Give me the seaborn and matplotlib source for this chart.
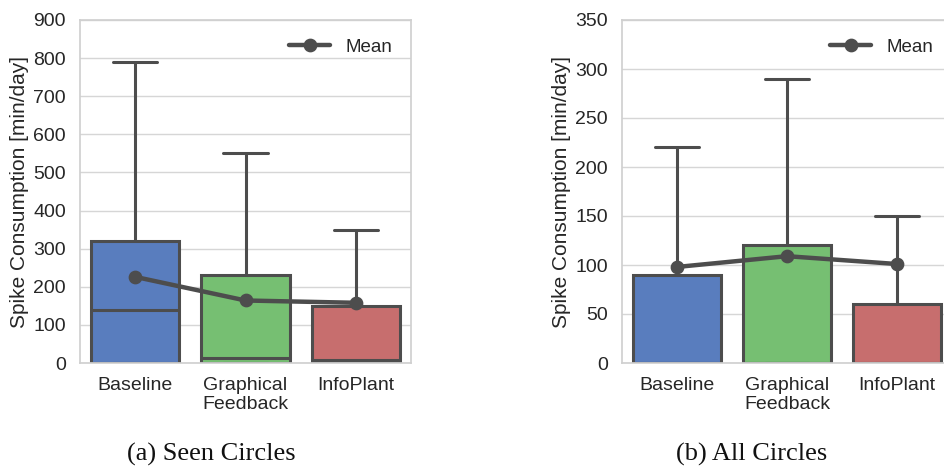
import numpy as np
import pandas as pd
import matplotlib
matplotlib.use("Agg")
import matplotlib.pyplot as plt
import seaborn as sns

conditions = ["Baseline", "Graphical\nFeedback", "InfoPlant"]

# Seen circles: box summary (lower quartile is 0 for every condition)
seen_median = [140, 13, 8]
seen_q3 = [320, 232, 150]
seen_whisker = [790, 550, 350]
seen_mean = [226, 164, 158]

# All circles
all_median = [0, 0, 0]
all_q3 = [90, 120, 60]
all_whisker = [220, 290, 150]
all_mean = [98, 109, 101]

palette = ["#4878CF", "#6ACC65", "#D65F5F"]
line_gray = "#4d4d4d"


def sample_frame(medians, q3s, whiskers):
    """Five-value samples whose quartiles/whiskers reproduce the summary."""
    rows = []
    for cond, med, q3, wh in zip(conditions, medians, q3s, whiskers):
        for v in (0, 0, med, q3, wh):
            rows.append({"condition": cond, "value": v})
    return pd.DataFrame(rows)


sns.set_theme(style="whitegrid")
plt.rcParams["font.family"] = ["Liberation Sans", "DejaVu Sans"]
plt.rcParams["axes.edgecolor"] = "#d0d0d0"
plt.rcParams["grid.color"] = "#d6d6d6"

fig = plt.figure(figsize=(9.44, 4.67), dpi=100)
W, H = 944, 467
ax1 = fig.add_axes([80 / W, 104 / H, 331 / W, 343 / H])
ax2 = fig.add_axes([622 / W, 104 / H, 330 / W, 343 / H])

panels = [
    (ax1, seen_median, seen_q3, seen_whisker, seen_mean, np.arange(0, 901, 100), 900),
    (ax2, all_median, all_q3, all_whisker, all_mean, np.arange(0, 351, 50), 350),
]

for ax, med, q3, wh, mean, ticks, top in panels:
    df = sample_frame(med, q3, wh)
    sns.boxplot(data=df, x="condition", y="value", hue="condition",
                palette=palette, order=conditions, hue_order=conditions,
                width=0.8, linecolor=line_gray, linewidth=2.2,
                saturation=0.75, whis=1.5, legend=False, ax=ax)
    mdf = pd.DataFrame({"condition": conditions, "value": mean})
    sns.pointplot(data=mdf, x="condition", y="value", order=conditions,
                  color=line_gray, errorbar=None, markers="o",
                  markersize=7.5, linewidth=3.2, label="Mean", ax=ax)
    for coll in ax.collections:
        coll.set_zorder(5)
    for ln in ax.lines[-1:]:
        ln.set_zorder(5)
    ax.set_xlim(-0.5, 2.5)
    ax.set_ylim(0, top)
    ax.set_yticks(ticks)
    ax.tick_params(axis="both", labelsize=14, colors="#262626", pad=4)
    ax.set_xlabel("")
    ax.set_ylabel("Spike Consumption [min/day]", fontsize=15, color="#262626",
                  labelpad=3)
    ax.legend(loc="upper right", frameon=False, fontsize=13.5,
              handlelength=2.2, borderaxespad=0.6)

serif = ["Liberation Serif", "DejaVu Serif"]
fig.text(211 / W, 1 - 454 / H, "(a) Seen Circles", ha="center", va="center",
         fontsize=19, family=serif, color="#111111")
fig.text(752 / W, 1 - 454 / H, "(b) All Circles", ha="center", va="center",
         fontsize=19, family=serif, color="#111111")

fig.savefig("out.png", dpi=100)
